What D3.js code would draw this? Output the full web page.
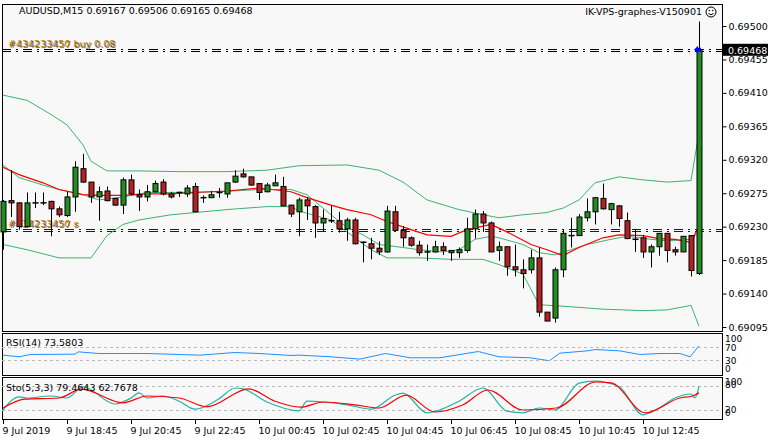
<!DOCTYPE html>
<html><head><meta charset="utf-8">
<script src="https://cdn.jsdelivr.net/npm/d3@7"></script>
<style>body{margin:0;background:#fff}svg{display:block}text{font-family:"DejaVu Sans",sans-serif;font-size:9.5px}</style>
</head><body>
<script>
// candle OHLC in points above 0.69000 (1 point = 0.00001)
const opens  = [223,265,262,230,262,262,264,254,245,270,308,290,270,278,268,259,293,273,270,277,290,274,274,274,284,269,269,276,274,290,301,297,288,277,285,284,259,250,266,257,235,238,238,227,239,209,207,201,196,250,225,215,205,196,196,203,198,195,198,227,247,235,198,203,176,172,172,188,115,107,172,218,218,242,250,268,253,258,238,213,215,196,203,221,199,196,218,167];
const highs  = [266,306,263,276,276,276,265,257,277,318,328,290,284,284,268,296,300,280,286,292,294,277,277,286,289,272,278,282,289,306,308,297,288,289,300,297,259,269,270,259,253,259,250,242,242,210,215,210,258,258,231,217,211,206,211,209,198,202,242,253,251,237,210,203,206,186,199,202,115,175,226,242,247,268,270,288,262,259,249,226,219,206,221,221,203,217,218,506];
const lows   = [199,243,226,229,255,259,217,243,243,250,289,262,238,264,258,247,273,251,264,276,272,268,270,270,250,262,269,269,269,289,296,285,266,276,285,258,243,217,239,215,223,235,222,211,206,182,186,192,195,225,203,203,191,184,195,192,184,188,195,214,223,196,184,164,163,147,167,109,103,101,162,202,218,237,233,253,233,230,213,196,188,175,191,182,191,196,163,165];
const closes = [264,262,230,262,261,262,254,246,270,310,290,270,277,265,259,293,274,270,277,288,274,270,276,282,250,268,273,275,289,298,297,286,276,286,289,258,247,266,258,235,241,237,227,239,207,208,201,196,251,225,215,205,195,196,203,198,195,199,227,247,235,196,203,176,172,167,188,115,103,172,221,217,243,250,269,254,261,241,214,212,196,203,221,198,196,217,171,468];

// Bollinger / MA values: [candle index, points]
const bbUpper = [[0,407],[3,400],[6,381],[8,367],[10,340],[11,318],[13,305],[17,305],[22,304],[28,304],[33,306],[37,312],[43,313],[47,306],[50,290],[53,266],[57,253],[60,246],[62,242],[65,246],[68,249],[70,255],[72,266],[74,289],[77,297],[80,293],[83,290],[86,292],[87,357]];
const bbMid = [[0,313],[2,296],[5,286],[7,280],[10,273],[12,266],[15,270],[18,276],[22,276],[27,277],[32,280],[36,280],[38,273],[41,246],[43,229],[45,219],[47,206],[50,202],[52,199],[55,196],[57,199],[59,213],[61,217],[62,215],[65,206],[67,195],[69,192],[71,199],[73,206],[76,213],[78,217],[81,213],[83,211],[86,213],[87,223]];
const bbLower = [[0,206],[3,199],[7,188],[11,188],[13,218],[15,233],[17,239],[21,246],[25,250],[28,253],[33,257],[36,257],[37,251],[41,239],[43,223],[46,199],[48,188],[52,188],[56,186],[60,186],[62,179],[65,166],[67,125],[70,123],[75,119],[80,117],[83,118],[86,124],[87,96]];
const maRed = [[0,310],[2,300],[5,289],[7,280],[10,273],[12,272],[15,272],[18,274],[21,274],[24,276],[28,278],[32,282],[36,277],[38,269],[41,259],[43,253],[46,246],[48,237],[51,226],[53,219],[56,217],[58,226],[61,233],[63,223],[66,206],[68,199],[70,191],[72,202],[75,215],[77,219],[80,218],[82,214],[84,213],[86,209],[87,231]];

const rsi = [[0,45],[2,40],[3.4,47],[9,48],[9.4,55],[12,50],[14.6,50],[18,50],[24.6,45],[29,53],[32,50],[36,44],[37,45],[41,40],[44.6,33],[47.8,50],[50.9,37],[54.6,37],[59.4,56],[62,40],[65.9,37],[68.3,28],[69.6,51],[73,58],[74.1,62],[77.1,58],[79.6,47],[82.1,50],[84.6,50],[85.9,40],[87,73.58]];
const stoMain = [[0,20],[2,53],[3,50],[6,55],[8,50],[10,78],[14,35],[16,50],[17,63],[18,50],[20,55],[22,42],[24,22],[27,48],[29,75],[30,73],[33,40],[37,18],[38,42],[40,40],[43,33],[46,22],[49,57],[50,62],[53,13],[57,42],[60,75],[63,17],[65,13],[67,25],[69,20],[72,87],[74,92],[77,78],[80,8],[82,25],[84,50],[86,60],[86.5,50],[87,79.46]];
const stoSig = [[0,25],[2.7,47],[7,50],[9.8,72],[15,38],[18,55],[22,50],[25.5,28],[30.7,73],[34,42],[37.2,27],[40,40],[44,33],[47,25],[50.4,57],[54,15],[57.5,33],[60.6,70],[65,20],[69.2,25],[74.1,90],[76,88],[80.3,13],[84.6,50],[86.2,55],[87,62.77]];

const priceTicks = [0.69500,0.69455,0.69410,0.69365,0.69320,0.69275,0.69230,0.69185,0.69140,0.69095];
const timeLabels = ["9 Jul 2019","9 Jul 18:45","9 Jul 20:45","9 Jul 22:45","10 Jul 00:45","10 Jul 02:45","10 Jul 04:45","10 Jul 06:45","10 Jul 08:45","10 Jul 10:45","10 Jul 12:45"];
const orderBuy = 0.69468, orderSell = 0.69225;

const W=768,H=440, L=2, R=722;
const svg = d3.select("body").append("svg").attr("width",W).attr("height",H);
svg.append("rect").attr("width",W).attr("height",H).attr("fill","#fff");
const pr = v => 0.69 + v/1e5;
const x = d3.scaleLinear().domain([0,87]).range([3,699]);
const y = d3.scaleLinear().domain([0.69095,0.69500]).range([327,26]);
const yR = d3.scaleLinear().domain([0,100]).range([370,337]);
const yS = d3.scaleLinear().domain([0,100]).range([418,378]);
const px = v => Math.round(v)+0.5;

// panels
[[4,331],[333,375],[377,419]].forEach(([t,b])=>{
  svg.append("rect").attr("x",L+0.5).attr("y",t+0.5).attr("width",R-L).attr("height",b-t).attr("fill","#f8f8f8").attr("stroke","#000");
});

// price axis
const yAxis = d3.axisRight(y).tickValues(priceTicks).tickFormat(d3.format(".5f")).tickSize(4);
const ga = svg.append("g").attr("transform",`translate(${R+0.5},0)`).call(yAxis);
ga.select(".domain").remove();
ga.selectAll("text").attr("x",6).attr("fill","#000").style("font-size","9.5px");
// current price box
svg.append("rect").attr("x",R+1).attr("y",y(pr(468))-6).attr("width",46).attr("height",12).attr("fill","#000");
svg.append("text").attr("x",R+6).attr("y",y(pr(468))+4).attr("fill","#fff").text("0.69468");

// order lines
function orderLine(p,col){
  [-1,1].forEach(o=>svg.append("line").attr("x1",L).attr("x2",R).attr("y1",px(y(p))+o).attr("y2",px(y(p))+o)
    .attr("stroke",col).attr("stroke-dasharray","9,5,2,5"));
}
orderLine(orderBuy,"#000");
orderLine(orderSell,"#0000ff");
svg.append("text").attr("x",8).attr("y",y(orderBuy)-3).attr("fill","#c08000").text("#434233456 buy 0.08");
svg.append("text").attr("x",9).attr("y",y(orderBuy)-2).attr("fill","#333").attr("opacity",0.7).text("#434233457 buy 0.08");
svg.append("text").attr("x",8).attr("y",y(orderSell)-3).attr("fill","#c08000").text("#434233456 s");
svg.append("text").attr("x",9).attr("y",y(orderSell)-2).attr("fill","#334").attr("opacity",0.7).text("#434233457 s");

// bands and MA
const ln = d3.line().x(d=>x(d[0])).y(d=>y(pr(d[1])));
[bbUpper,bbMid,bbLower].forEach(a=>svg.append("path").attr("d",ln(a)).attr("fill","none").attr("stroke","#3cb371").attr("stroke-width",1));
svg.append("path").attr("d",ln(maRed)).attr("fill","none").attr("stroke","#ff0000").attr("stroke-width",1.2);

// candles
const cg = svg.append("g");
opens.forEach((o,i)=>{
  const c=closes[i], cx=px(x(i));
  cg.append("line").attr("x1",cx).attr("x2",cx).attr("y1",y(pr(highs[i]))).attr("y2",y(pr(lows[i]))).attr("stroke","#000");
  const top=y(pr(Math.max(o,c))), bot=y(pr(Math.min(o,c)));
  if (Math.abs(bot-top)<1.5){
    cg.append("line").attr("x1",cx-3).attr("x2",cx+3).attr("y1",top).attr("y2",top).attr("stroke","#000").attr("stroke-width",1.5);
  } else {
    cg.append("rect").attr("x",cx-2.5).attr("y",top).attr("width",5).attr("height",bot-top)
      .attr("fill",c>o?"#228b22":"#b22222").attr("stroke","#000");
  }
});
// arrow marker
svg.append("path").attr("d",`M${x(87)-5},${y(orderBuy)} l4,-4 v2 h3 v4 h-3 v2 z`).attr("fill","#0000ff");

// RSI
svg.append("path").attr("d",d3.line().x(d=>x(d[0])).y(d=>yR(d[1]))(rsi)).attr("fill","none").attr("stroke","#1e90ff");
[70,30].forEach(v=>svg.append("line").attr("x1",L).attr("x2",R).attr("y1",px(yR(v))).attr("y2",px(yR(v))).attr("stroke","#bbb").attr("stroke-dasharray","3,3"));
[[100,339],[70,348],[30,361],[0,369]].forEach(([v,yy])=>svg.append("text").attr("x",R+3).attr("y",yy+3).style("font-size","9px").text(v));
svg.append("text").attr("x",6).attr("y",346).text("RSI(14) 73.5803");

// Stochastic
[80,20].forEach(v=>svg.append("line").attr("x1",L).attr("x2",R).attr("y1",px(yS(v))).attr("y2",px(yS(v))).attr("stroke","#bbb").attr("stroke-dasharray","3,3"));
const sl = d3.line().x(d=>x(d[0])).y(d=>yS(d[1])).curve(d3.curveMonotoneX);
svg.append("path").attr("d",sl(stoMain)).attr("fill","none").attr("stroke","#20b2aa").attr("stroke-width",1.2);
svg.append("path").attr("d",sl(stoSig)).attr("fill","none").attr("stroke","#ff0000").attr("stroke-width",1.2);
[["100",383],["80",386],["20",411],["0",414]].forEach(([t,yy])=>svg.append("text").attr("x",R+3).attr("y",yy+2).style("font-size","9px").text(t));
svg.append("text").attr("x",6).attr("y",391).text("Sto(5,3,3) 79.4643 62.7678");

// time axis
timeLabels.forEach((t,k)=>{
  const tx=px(x(k*8));
  svg.append("line").attr("x1",tx).attr("x2",tx).attr("y1",419).attr("y2",424).attr("stroke","#000");
  svg.append("text").attr("x",tx-1).attr("y",434).text(t);
});

// titles
svg.append("text").attr("x",19).attr("y",14).text("AUDUSD,M15  0.69167 0.69506 0.69165 0.69468");
svg.append("text").attr("x",702).attr("y",15).attr("text-anchor","end").text("IK-VPS-graphes-V150901");
svg.append("circle").attr("cx",711).attr("cy",12).attr("r",5).attr("fill","none").attr("stroke","#000");
svg.append("path").attr("d","M708.5,13.5 q2.5,2.5 5,0").attr("fill","none").attr("stroke","#000");
svg.append("circle").attr("cx",709.3).attr("cy",10.5).attr("r",0.7);
svg.append("circle").attr("cx",712.7).attr("cy",10.5).attr("r",0.7);
</script>
</body></html>
